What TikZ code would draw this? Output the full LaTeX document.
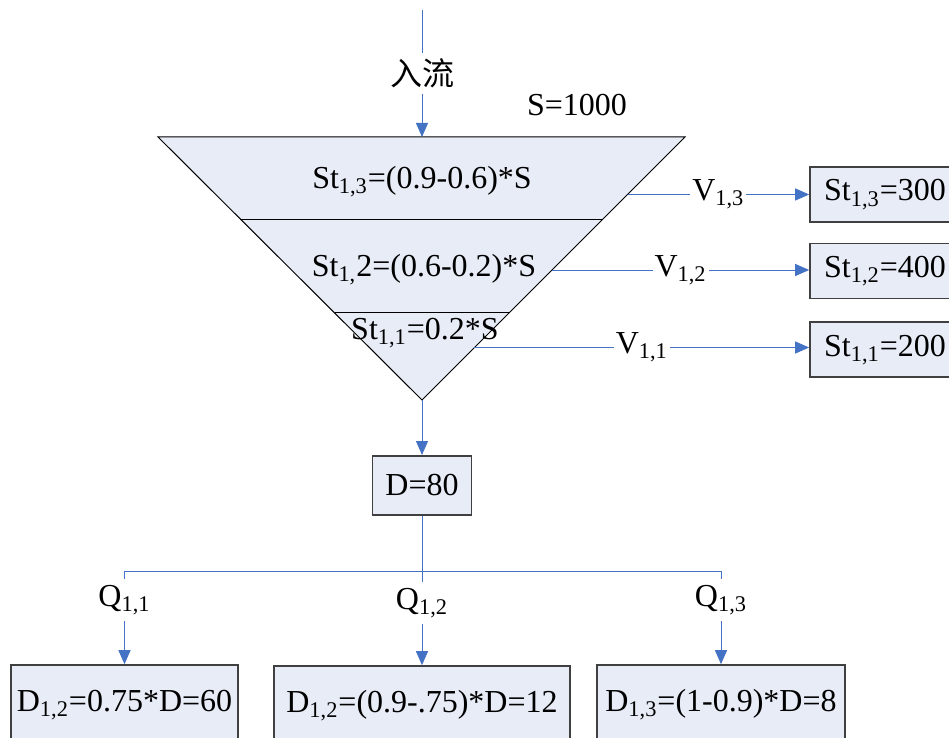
\documentclass[tikz,border=0pt]{standalone}
\usepackage{fontspec}
\setmainfont{Liberation Serif}
\newfontfamily\cjkfont{Noto Sans CJK SC}
\usetikzlibrary{arrows.meta,positioning,calc}
\definecolor{rsfill}{RGB}{231,236,247}
\definecolor{rsline}{RGB}{68,114,196}
\definecolor{rsborder}{RGB}{64,64,64}

\begin{document}
\begin{tikzpicture}[
    x=0.5pt, y=-0.5pt,
    font=\fontsize{16}{19}\selectfont,
    layer/.style={draw=black, line width=0.5pt},
    stbox/.style={draw=rsborder, fill=rsfill, line width=0.8pt, minimum width=75pt, minimum height=27.5pt, inner sep=0pt},
    dbox/.style={draw=rsborder, fill=rsfill, line width=0.8pt, minimum width=49.5pt, minimum height=29.5pt, inner sep=0pt},
    outbox/.style={draw=rsborder, fill=rsfill, line width=0.8pt, minimum height=40pt, inner sep=0pt},
    flow/.style={-{Triangle[length=7pt,width=6pt]}, draw=rsline, line width=0.5pt},
    pipe/.style={draw=rsline, line width=0.5pt},
    tag/.style={fill=white, inner xsep=1pt, inner ysep=3pt}
]
\useasboundingbox (0,0) rectangle (949,738);
% reservoir
\coordinate (tl) at (158,137);
\coordinate (tr) at (685,137);
\coordinate (apex) at (422,400);
\fill[rsfill] (tl) -- (tr) -- (apex) -- cycle;
\draw[layer] ($(tl)!0.312!(apex)$) -- ($(tr)!0.312!(apex)$);
\draw[layer] ($(tl)!0.669!(apex)$) -- ($(tr)!0.669!(apex)$);
\draw[layer] (tl) -- (tr) -- (apex) -- cycle;
\node (l3) at (422,182) {St\textsubscript{1,3}=(0.9-0.6)*S};
\node (l2) at (424,270) {St\textsubscript{1,}2=(0.6-0.2)*S};
\node (l1) at (425,333) {St\textsubscript{1,1}=0.2*S};
\node (cap) at (577,105) {S=1000};
% inflow
\coordinate (inflow) at (422,10);
\coordinate (top) at (422,137);
\draw[flow] (inflow) -- node[tag] {\cjkfont 入流} (top);
% storage boxes
\node[stbox] (st3) at (885,194.5) {St\textsubscript{1,3}=300};
\node[stbox, below=10pt of st3] (st2) {St\textsubscript{1,2}=400};
\node[stbox, below=11pt of st2] (st1) {St\textsubscript{1,1}=200};
\coordinate (v3) at ($(tr)!0.2186!(apex)$);
\coordinate (v2) at ($(tr)!0.5057!(apex)$);
\coordinate (v1) at ($(tr)!0.8004!(apex)$);
\draw[flow] (v3) -- node[tag] {V\textsubscript{1,3}} (v3 -| st3.west);
\draw[flow] (v2) -- node[tag] {V\textsubscript{1,2}} (v2 -| st2.west);
\draw[flow] (v1) -- node[tag] {V\textsubscript{1,1}} (v1 -| st1.west);
% demand
\node[dbox, below=27.5pt of apex] (dem) {D=80};
\draw[flow] (apex) -- (dem.north);
\coordinate (bus) at (422,571);
\draw[pipe] (dem.south) -- (bus);
\node[outbox, minimum width=113.5pt] (d1) at (124.5,705) {D\textsubscript{1,2}=0.75*D=60};
\node[outbox, minimum width=148pt] (d2) at (422,706) {D\textsubscript{1,2}=(0.9-.75)*D=12};
\node[outbox, minimum width=124pt] (d3) at (721,705) {D\textsubscript{1,3}=(1-0.9)*D=8};
\draw[flow] (bus) -| node[tag, pos=0.655] {Q\textsubscript{1,1}} (d1.north);
\draw[flow] (bus) -- node[tag, pos=0.34] {Q\textsubscript{1,2}} (d2.north);
\draw[flow] (bus) -| node[tag, pos=0.655] {Q\textsubscript{1,3}} (d3.north);
\end{tikzpicture}
\end{document}
